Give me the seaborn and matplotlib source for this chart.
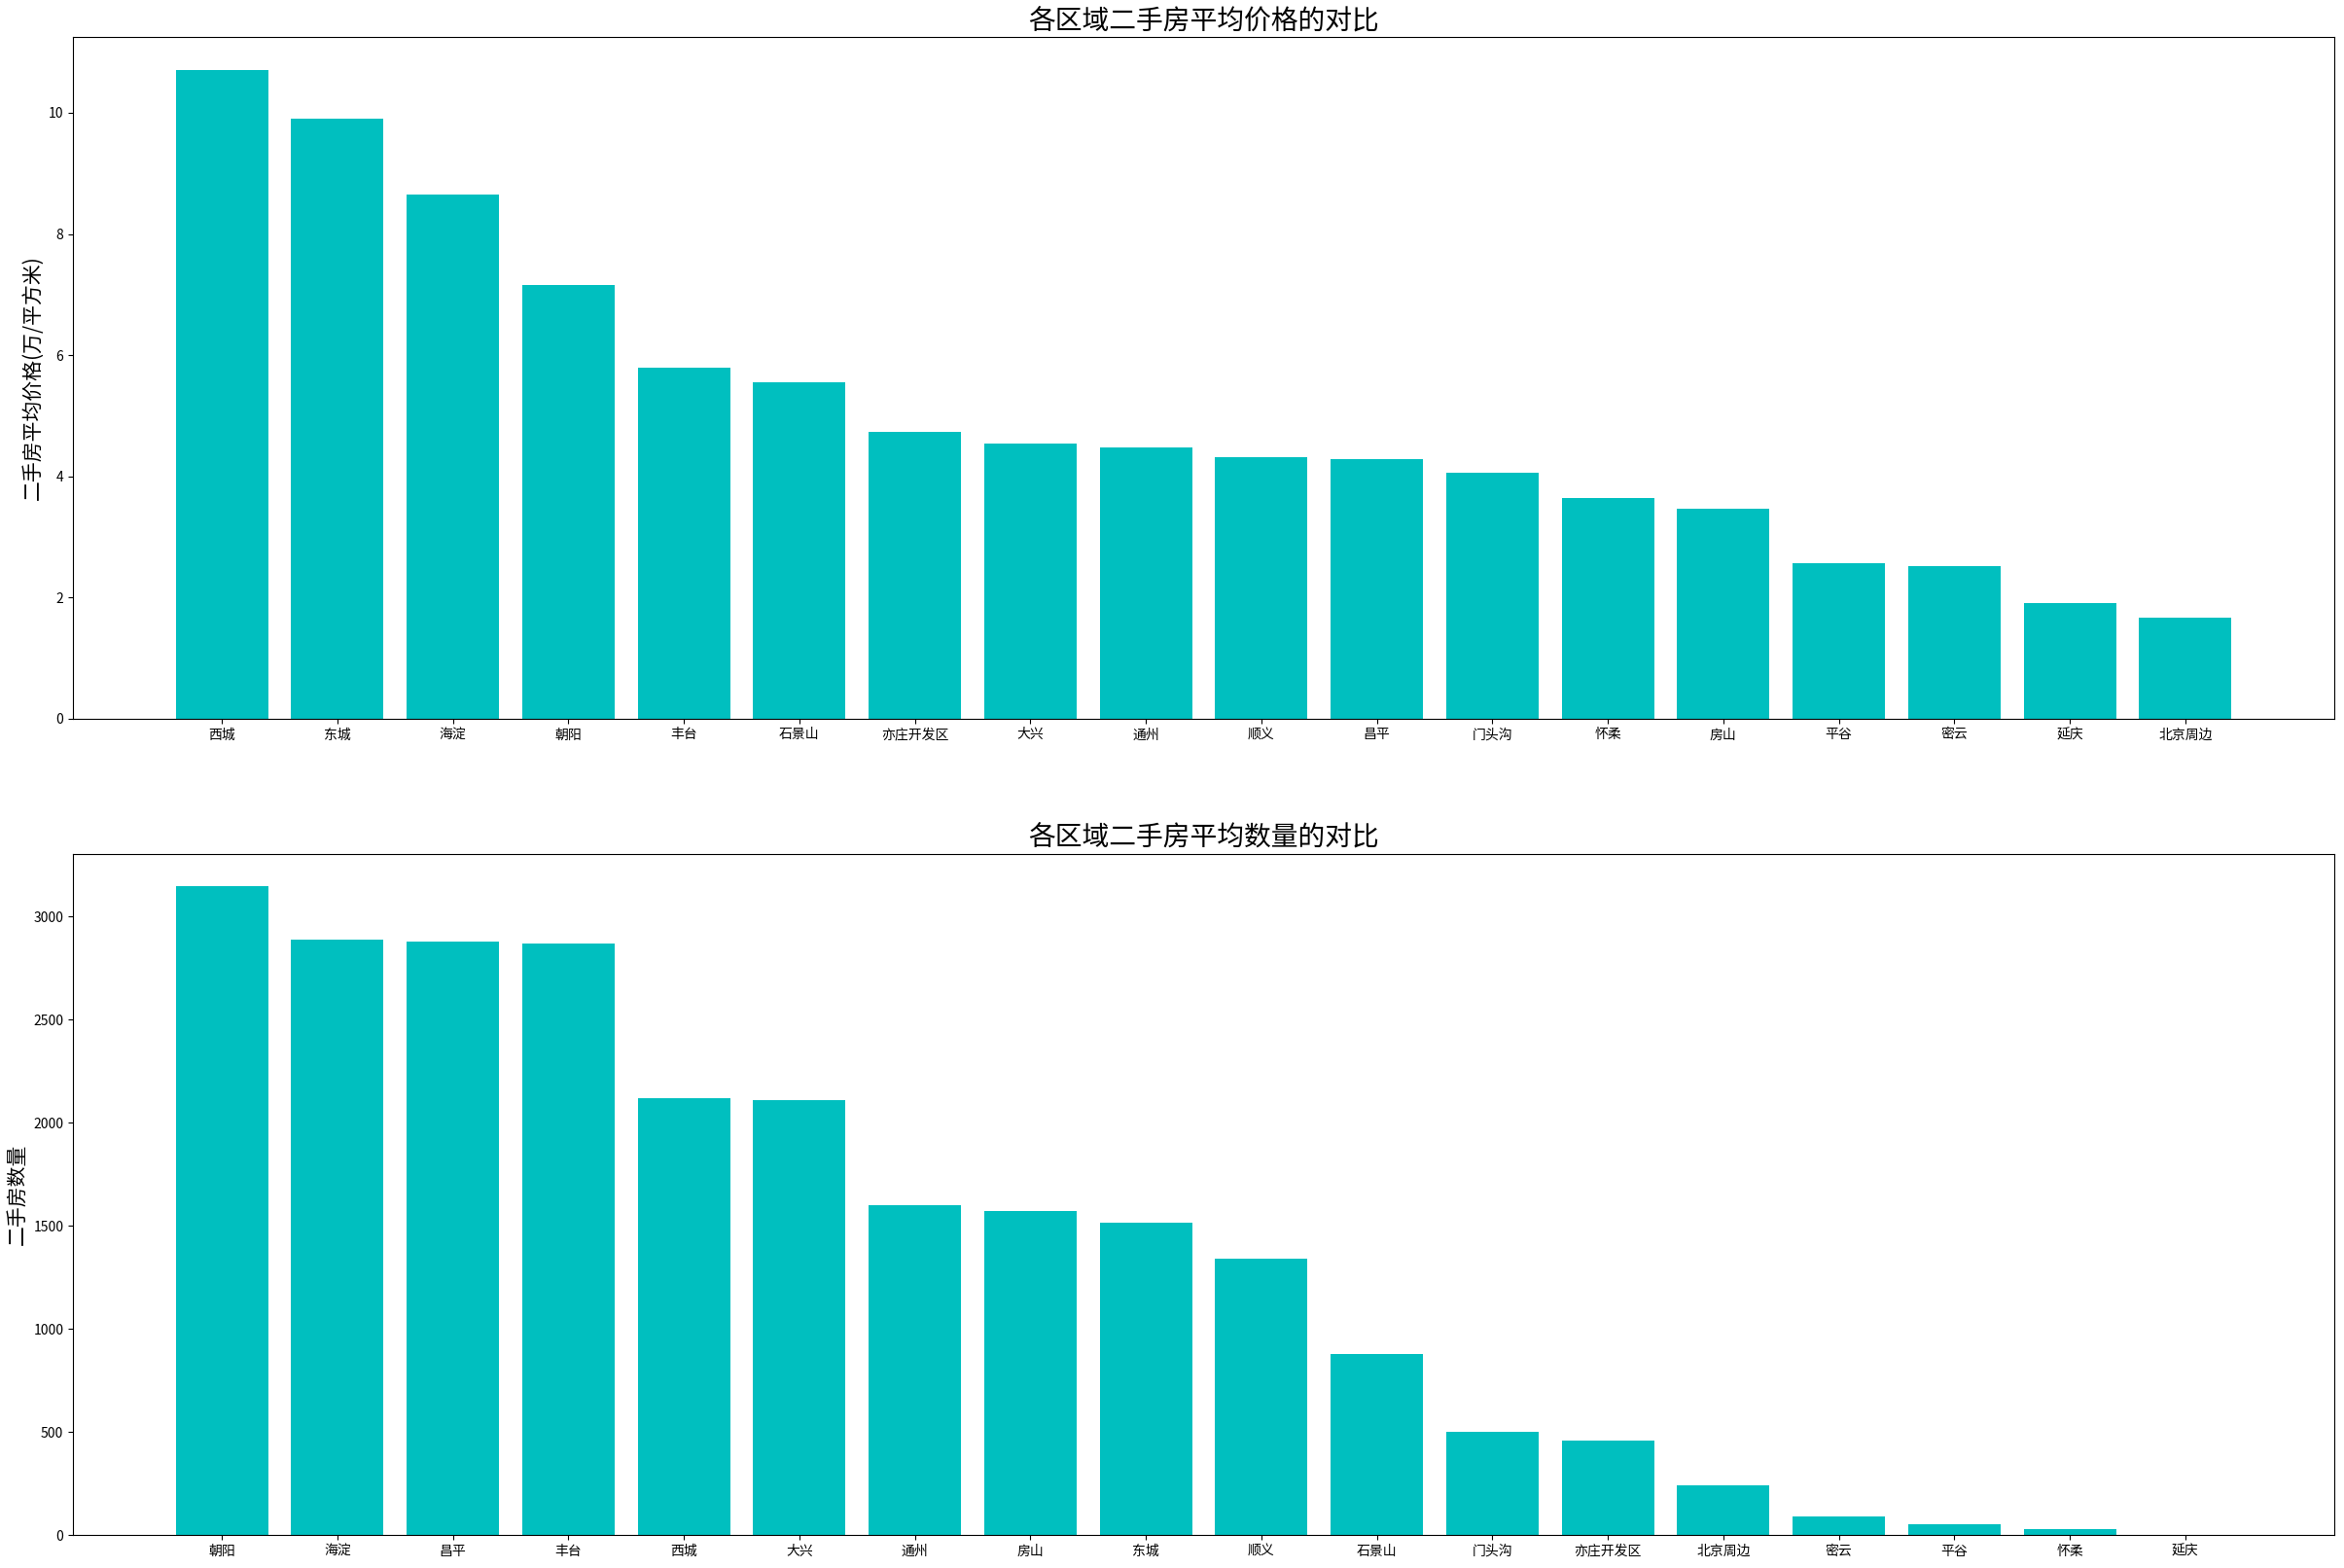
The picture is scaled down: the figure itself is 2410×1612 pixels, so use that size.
import matplotlib
matplotlib.use("Agg")
import matplotlib.pyplot as plt
import seaborn as sns
import pandas as pd

plt.rcParams['font.family'] = ['Noto Sans CJK SC', 'DejaVu Sans']
plt.rcParams['axes.unicode_minus'] = False

price_regions = ['西城', '东城', '海淀', '朝阳', '丰台', '石景山', '亦庄开发区', '大兴', '通州',
                 '顺义', '昌平', '门头沟', '怀柔', '房山', '平谷', '密云', '延庆', '北京周边']
price_values = [10.71, 9.91, 8.65, 7.16, 5.79, 5.55, 4.73, 4.54, 4.48,
                4.32, 4.28, 4.06, 3.64, 3.46, 2.56, 2.51, 1.90, 1.67]

count_regions = ['朝阳', '海淀', '昌平', '丰台', '西城', '大兴', '通州', '房山', '东城',
                 '顺义', '石景山', '门头沟', '亦庄开发区', '北京周边', '密云', '平谷', '怀柔', '延庆']
count_values = [3145, 2886, 2876, 2867, 2117, 2108, 1601, 1572, 1514,
                1341, 878, 499, 457, 239, 88, 50, 26, 2]

W, H = 2410, 1612
dpi = 100
fig = plt.figure(figsize=(W / dpi, H / dpi), dpi=dpi)
left = 75 / W
width = (2400 - 75) / W
ax1 = fig.add_axes([left, 1 - 738.7 / H, width, (738.7 - 38.4) / H])
ax2 = fig.add_axes([left, 1 - 1578 / H, width, (1578 - 878) / H])

df1 = pd.DataFrame({'region': price_regions, 'value': price_values})
df2 = pd.DataFrame({'region': count_regions, 'value': count_values})

for ax, df, title, ylabel in [
    (ax1, df1, '各区域二手房平均价格的对比', '二手房平均价格(万/平方米)'),
    (ax2, df2, '各区域二手房平均数量的对比', '二手房数量'),
]:
    sns.barplot(data=df, x='region', y='value', color='c', saturation=1,
                width=0.8, ax=ax, errorbar=None)
    n = len(df)
    ax.set_xlim(-0.4 - 0.05 * (n - 0.2), n - 1 + 0.4 + 0.05 * (n - 0.2))
    ax.set_ylim(0, max(df['value']) * 1.05)
    ax.set_title(title, fontsize=20)
    ax.set_ylabel(ylabel, fontsize=15)
    ax.set_xlabel('')
    ax.tick_params(labelsize=10)

fig.savefig('out.png', dpi=dpi)
